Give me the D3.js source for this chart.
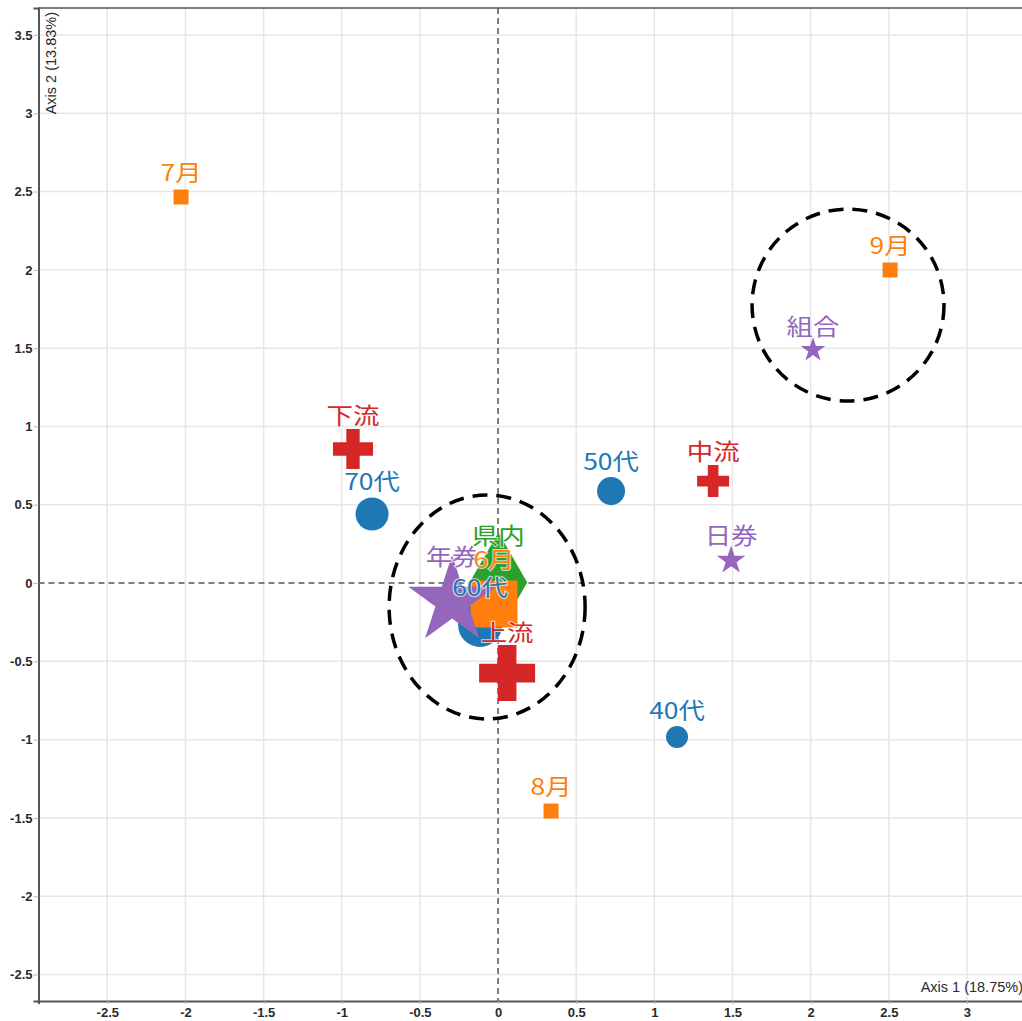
<!DOCTYPE html>
<html>
<head>
<meta charset="utf-8">
<script src="https://cdn.jsdelivr.net/npm/d3@7"></script>
<style>
  body { margin: 0; background: #fff; }
  svg { display: block; }
</style>
</head>
<body>
<svg id="chart" width="1022" height="1021"></svg>
<script>
// Correspondence analysis map: category coordinates on the first two axes
const groups      = ["年代", "居住地", "時期", "流域", "券種"];
const categories  = ["70代", "50代", "40代", "60代", "県内", "7月", "9月", "8月", "6月", "下流", "中流", "上流", "日券", "組合", "年券"];
const groupOf     = ["年代", "年代", "年代", "年代", "居住地", "時期", "時期", "時期", "時期", "流域", "流域", "流域", "券種", "券種", "券種"];
const axis1Scores = [-0.806, 0.723, 1.145, -0.115, 0.002, -2.028, 2.508, 0.339, -0.026, -0.928, 1.376, 0.058, 1.491, 2.015, -0.294];
const axis2Scores = [0.441, 0.587, -0.983, -0.268, 0.004, 2.465, 1.999, -1.456, -0.134, 0.856, 0.651, -0.575, 0.144, 1.488, -0.115];
const counts      = [279, 201, 124, 496, 1000, 90, 90, 90, 885, 328, 209, 640, 90, 67, 846];

const xTicks = [-2.5, -2, -1.5, -1, -0.5, 0, 0.5, 1, 1.5, 2, 2.5, 3];
const yTicks = [-2.5, -2, -1.5, -1, -0.5, 0, 0.5, 1, 1.5, 2, 2.5, 3, 3.5];
const axisTitles = ["Axis 1 (18.75%)", "Axis 2 (13.83%)"];

// Highlighted clusters (centre and radii in axis units)
const clusterCx = [-0.07, 2.239];
const clusterCy = [-0.153, 1.775];
const clusterRx = [0.627, 0.614];
const clusterRy = [0.715, 0.613];

// Styling per group
const groupColor = { "年代": "#1f77b4", "居住地": "#2ca02c", "時期": "#ff7f0e", "流域": "#d62728", "券種": "#9467bd" };
const markerOrder = ["年代", "居住地", "時期", "流域", "券種"];
const labelOrder  = ["券種", "居住地", "時期", "年代", "流域"];

const svg = d3.select("#chart");
const W = 1022, H = 1021;
const plot = { left: 38.5, top: 8, right: 1029.5, bottom: 1001 };

const x = d3.scaleLinear().domain([-2.94, 3.40]).range([plot.left, plot.right]);
const y = d3.scaleLinear().domain([-2.669, 3.672]).range([plot.bottom, plot.top]);
const rScale = d3.scaleSqrt().domain([0, 1000]).range([0, 31.25]);

svg.append("rect").attr("width", W).attr("height", H).attr("fill", "#fff");

svg.append("defs").append("clipPath").attr("id", "plotClip")
  .append("rect")
  .attr("x", plot.left).attr("y", plot.top)
  .attr("width", plot.right - plot.left).attr("height", plot.bottom - plot.top);

// Grid
const grid = svg.append("g").attr("clip-path", "url(#plotClip)");
grid.selectAll("line.gx").data(xTicks.filter(d => d !== 0)).join("line")
  .attr("x1", d => x(d)).attr("x2", d => x(d))
  .attr("y1", plot.top).attr("y2", plot.bottom)
  .attr("stroke", "#e6e6e6").attr("stroke-width", 1.5);
grid.selectAll("line.gy").data(yTicks.filter(d => d !== 0)).join("line")
  .attr("y1", d => y(d)).attr("y2", d => y(d))
  .attr("x1", plot.left).attr("x2", plot.right)
  .attr("stroke", "#e6e6e6").attr("stroke-width", 1.5);

// Origin lines
grid.append("line")
  .attr("x1", x(0)).attr("x2", x(0)).attr("y1", plot.top).attr("y2", plot.bottom)
  .attr("stroke", "#555").attr("stroke-width", 1.5).attr("stroke-dasharray", "6,4");
grid.append("line")
  .attr("y1", y(0)).attr("y2", y(0)).attr("x1", plot.left).attr("x2", plot.right)
  .attr("stroke", "#555").attr("stroke-width", 1.5).attr("stroke-dasharray", "6,4");

// Axes
const fmt = d => String(d);
const xAxis = svg.append("g").attr("transform", `translate(0,${plot.bottom})`)
  .call(d3.axisBottom(x).tickValues(xTicks).tickFormat(fmt).tickSize(3).tickPadding(4));
const yAxis = svg.append("g").attr("transform", `translate(${plot.left},0)`)
  .call(d3.axisLeft(y).tickValues(yTicks).tickFormat(fmt).tickSize(5).tickPadding(1));
[xAxis, yAxis].forEach(a => {
  a.select(".domain").attr("stroke", "#555").attr("stroke-width", 2);
  a.selectAll(".tick line").attr("stroke", "#bbb");
  a.selectAll(".tick text")
    .attr("fill", "#2a2a2a")
    .style("font-family", "'Liberation Sans', Arial, sans-serif")
    .style("font-size", "13px")
    .style("font-weight", "bold");
});

// Top frame line
svg.append("line")
  .attr("x1", plot.left).attr("x2", W).attr("y1", plot.top).attr("y2", plot.top)
  .attr("stroke", "#555").attr("stroke-width", 1.5);

// Axis titles
svg.append("text")
  .attr("x", W + 1).attr("y", plot.bottom - 9)
  .attr("text-anchor", "end")
  .attr("fill", "#2a2a2a")
  .style("font-family", "'Liberation Sans', Arial, sans-serif")
  .style("font-size", "14.5px")
  .text(axisTitles[0]);
svg.append("text")
  .attr("transform", `translate(${plot.left + 17},${plot.top + 4}) rotate(-90)`)
  .attr("text-anchor", "end")
  .attr("fill", "#2a2a2a")
  .style("font-family", "'Liberation Sans', Arial, sans-serif")
  .style("font-size", "14.5px")
  .text(axisTitles[1]);

// Points
const points = categories.map((c, i) => ({
  name: c, group: groupOf[i], d1: axis1Scores[i], d2: axis2Scores[i], n: counts[i]
}));

const KA = 0.8908130915292852;
function markerPath(p) {
  const r = rScale(p.n);
  switch (p.group) {
    case "年代":  return d3.symbol(d3.symbolCircle, Math.PI * r * r)();
    case "居住地": { const h = 1.6 * r; return d3.symbol(d3.symbolDiamond, 2 * Math.tan(Math.PI / 6) * h * h)(); }
    case "時期":  { const s = 1.6 * r; return d3.symbol(d3.symbolSquare, s * s)(); }
    case "流域":  { const q = 1.12 * r / 3; return d3.symbol(d3.symbolCross, 20 * q * q)(); }
    case "券種":  { const R = 1.6 * r; return d3.symbol(d3.symbolStar, R * R / KA)(); }
  }
}

const marks = svg.append("g").attr("clip-path", "url(#plotClip)");
markerOrder.forEach(g => {
  marks.selectAll(null).data(points.filter(p => p.group === g)).join("path")
    .attr("transform", p => `translate(${x(p.d1)},${y(p.d2)})`)
    .attr("d", markerPath)
    .attr("fill", groupColor[g]);
});

// Dashed cluster outlines
marks.selectAll("ellipse").data(clusterCx.map((cx, i) => ({ cx, cy: clusterCy[i], rx: clusterRx[i], ry: clusterRy[i] })))
  .join("ellipse")
  .attr("cx", d => x(d.cx)).attr("cy", d => y(d.cy))
  .attr("rx", d => x(d.cx + d.rx) - x(d.cx))
  .attr("ry", d => y(d.cy) - y(d.cy + d.ry))
  .attr("fill", "none").attr("stroke", "#000")
  .attr("stroke-width", 3.5).attr("stroke-dasharray", "15,9");

// Labels (slightly widened glyphs)
const lbl = svg.append("g").attr("clip-path", "url(#plotClip)");
labelOrder.forEach(g => {
  lbl.selectAll(null).data(points.filter(p => p.group === g)).join("text")
    .attr("transform", p => `translate(${x(p.d1)},${y(p.d2) - rScale(p.n) - 7}) scale(1.15,1)`)
    .attr("text-anchor", "middle")
    .attr("fill", groupColor[g])
    .attr("stroke", "rgba(255,255,255,0.7)")
    .attr("stroke-width", 2)
    .attr("paint-order", "stroke")
    .style("font-family", "'Noto Sans CJK JP', 'Noto Sans', sans-serif")
    .style("font-size", "23px")
    .text(p => p.name);
});
</script>
</body>
</html>
